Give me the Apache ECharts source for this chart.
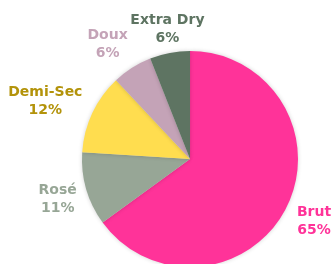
<!DOCTYPE html>
<html>
<head>
<meta charset="utf-8">
<script src="https://cdn.jsdelivr.net/npm/echarts@6/dist/echarts.min.js"></script>
<style>
  html, body { margin: 0; padding: 0; background: #fff; }
  #chart { width: 334px; height: 264px; }
</style>
</head>
<body>
<div id="chart"></div>
<script>
// wine styles, clockwise from 12 o'clock
const categories = ["Brut", "Rosé", "Demi-Sec", "Doux", "Extra Dry"];
const shares = [65, 11, 12, 6, 6];
const sliceColors = ["#FF3399", "#97A696", "#FFDD4F", "#C4A3B7", "#5E7462"];
const labelColors = ["#FF3399", "#97A696", "#B3930A", "#C4A3B7", "#5E7462"];

// small label nudges [dx, dy] to match the original placement
const labelNudge = [[-5, 8], [7, 7], [6, -7], [7, -13], [42, -12]];

const chart = echarts.init(document.getElementById("chart"));

chart.setOption({
  animation: false,
  series: [
    {
      type: "pie",
      center: [190, 159],
      radius: 108,
      startAngle: 90,
      clockwise: true,
      avoidLabelOverlap: false,
      data: categories.map((name, i) => ({
        name,
        value: shares[i],
        itemStyle: { color: sliceColors[i] },
        label: { rich: { t: { color: labelColors[i] } } },
      })),
      itemStyle: {
        shadowBlur: 4,
        shadowColor: "rgba(0, 0, 0, 0.18)",
      },
      label: {
        position: "outside",
        formatter: (p) => `{t|${p.name}}\n{t|${p.value}%}`,
        rich: {
          t: {
            align: "center",
            fontFamily: "DejaVu Sans",
            fontWeight: "bold",
            fontSize: 14,
            lineHeight: 18,
          },
        },
      },
      labelLine: { show: false, length: 12, length2: 0 },
      labelLayout: (p) => ({
        hideOverlap: false,
        dx: labelNudge[p.dataIndex][0],
        dy: labelNudge[p.dataIndex][1],
      }),
    },
  ],
});
</script>
</body>
</html>
